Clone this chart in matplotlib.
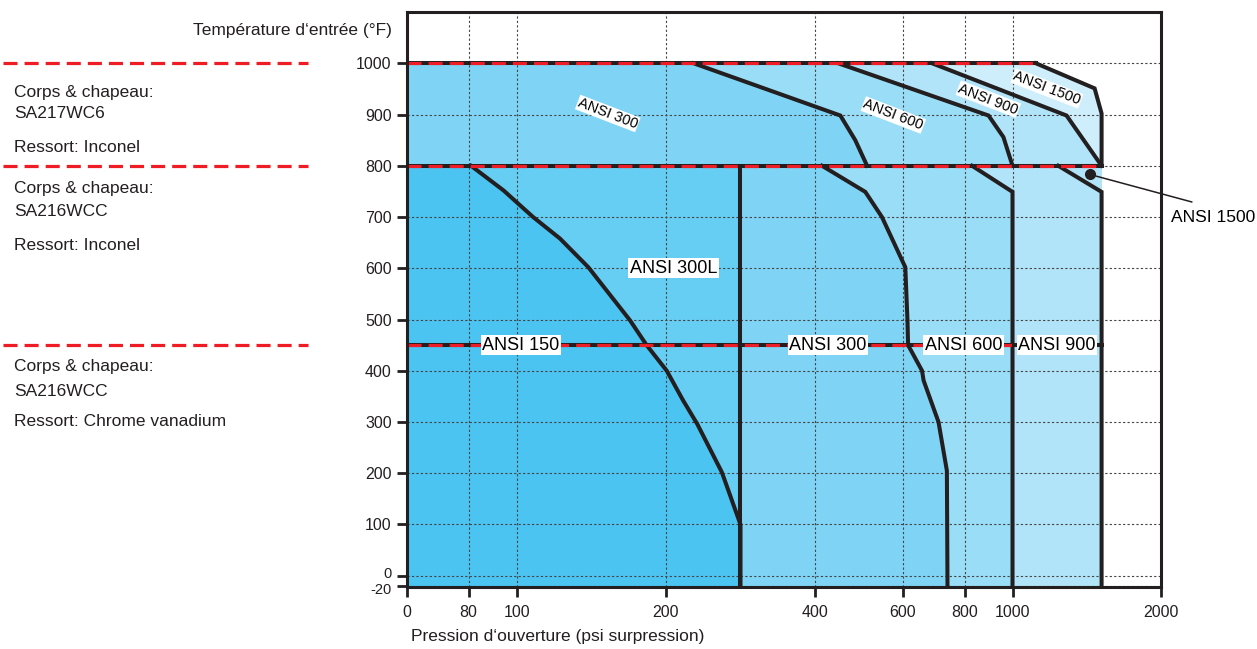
import numpy as np
import matplotlib
matplotlib.use("Agg")
import matplotlib.pyplot as plt
import matplotlib.transforms as mtransforms

plt.rcParams['font.family'] = ['Liberation Sans', 'DejaVu Sans']

# x axis is piecewise: tick values and where they sit along the axis (fraction of width)
x_ticks = [0, 80, 100, 200, 400, 600, 800, 1000, 2000]
x_frac = [0.0, 0.0817, 0.1454, 0.3435, 0.5411, 0.6572, 0.7395, 0.8031, 1.0]
y_ticks = [-20, 0, 100, 200, 300, 400, 500, 600, 700, 800, 900, 1000]

# boundaries, pressure (psi) vs temperature (F)
# upper band 800-1000 F
b300_up_x = [237, 458, 492, 519]
b300_up_y = [1000, 898, 850, 800]
b600_up_x = [453, 900, 962, 1000]
b600_up_y = [1000, 898, 856, 800]
b900_up_x = [695, 1364, 1600]
b900_up_y = [1000, 898, 800]
b1500_up_x = [1157, 1553, 1600, 1600]
b1500_up_y = [1000, 951, 902, 800]

# middle + lower bands (-20 to 800 F)
b150_x = [81, 94.5, 111, 129, 148, 176, 187, 201, 223, 242, 275, 300, 300]
b150_y = [800, 752, 700, 658, 602, 498, 450, 400, 342, 296, 202, 100, -20]
b300L_x = [300, 300]
b300L_y = [800, -20]
b300_x = [416, 515, 553, 609, 616, 618, 663, 668, 716, 743, 745]
b300_y = [800, 749, 700, 602, 498, 450, 400, 381, 300, 205, -20]
b600_x = [831, 1000, 1000]
b600_y = [800, 749, -20]
b900_x = [1308, 1600, 1600]
b900_y = [800, 749, -20]

# band separators (temperature limits) and their x extent
sep_y = [1000, 800, 450]
sep_xmax = [1157, 1600, 1600]

materials = ["Corps & chapeau:", "SA217WC6", "Corps & chapeau:", "SA216WCC",
             "Corps & chapeau:", "SA216WCC"]
springs = ["Ressort: Inconel", "Ressort: Inconel", "Ressort: Chrome vanadium"]

c150 = '#4BC4F1'
c300L = '#66CDF3'
c300 = '#7FD4F5'
c600 = '#99DDF6'
c900 = '#B1E4F8'
c1500 = '#CDEEFA'
black = '#231F20'
red = '#EE1C25'


def fwd(v):
    return np.interp(v, x_ticks, x_frac)


def inv(f):
    return np.interp(f, x_frac, x_ticks)


fig = plt.figure(figsize=(12.57, 6.49), dpi=100)
ax = fig.add_axes([0.3238, 0.0955, 0.5998, 0.886])
ax.set_xscale('function', functions=(fwd, inv))
ax.set_xlim(0, 2000)
ax.set_ylim(-22, 1100)


def region(lx, ly, rx, ry, color):
    xs = list(lx) + list(rx)[::-1]
    ys = list(ly) + list(ry)[::-1]
    ax.fill(xs, ys, color=color, lw=0, zorder=1)


# upper band
region([0, 0], [1000, 800], b300_up_x, b300_up_y, c300)
region(b300_up_x, b300_up_y, b600_up_x, b600_up_y, c600)
region(b600_up_x, b600_up_y, b900_up_x, b900_up_y, c900)
region(b900_up_x, b900_up_y, b1500_up_x, b1500_up_y, c1500)
# middle and lower bands
region([0, 0], [800, -20], b150_x, b150_y, c150)
region(b150_x, b150_y, [300, 300], [800, -20], c300L)
region(b300L_x, b300L_y, b300_x, b300_y, c300)
region(b300_x, b300_y, b600_x, b600_y, c600)
region(b600_x, b600_y, b900_x, b900_y, c900)
region([1308, 1600], [800, 800], [1600, 1600], [749, 749], c900)

ax.grid(True, color='#444444', lw=0.8, linestyle=(0, (2, 2)))
ax.set_axisbelow(False)
for gl in ax.get_xgridlines() + ax.get_ygridlines():
    gl.set_zorder(1.5)

lw_b = 2.9
for xs, ys in [(b300_up_x, b300_up_y), (b600_up_x, b600_up_y), (b900_up_x, b900_up_y),
               (b1500_up_x, b1500_up_y), (b150_x, b150_y), (b300L_x, b300L_y),
               (b300_x, b300_y), (b600_x, b600_y), (b900_x, b900_y)]:
    ax.plot(xs, ys, color=black, lw=lw_b, solid_joinstyle='miter', zorder=3)

for yv, xm in zip(sep_y, sep_xmax):
    ax.plot([0, xm], [yv, yv], color=black, lw=lw_b, zorder=3)
    ax.plot([0, xm], [yv, yv], color=red, lw=2.3, dashes=(4.4, 2.2), zorder=4)

# separators continued to the left of the axis
trans = mtransforms.blended_transform_factory(fig.transFigure, ax.transData)
for yv in sep_y:
    ax.plot([3 / 1257, 308 / 1257], [yv, yv], color=red, lw=2.3, dashes=(4.4, 2.2),
            transform=trans, clip_on=False)

mat_pos = [92, 114, 189, 212, 367, 391]
for m, yp in zip(materials, mat_pos):
    fig.text(14 / 1257, 1 - yp / 649, m, fontsize=12.5, color=black, va='center')
for s, yp in zip(springs, [148, 245, 421]):
    fig.text(14 / 1257, 1 - yp / 649, s, fontsize=12.5, color=black, va='center')

box = dict(facecolor='white', edgecolor='none', pad=1.0)
for txt, x, y in [("ANSI 150", 103, 450), ("ANSI 300L", 210, 600), ("ANSI 300", 430, 450),
                  ("ANSI 600", 796, 450), ("ANSI 900", 1299, 450)]:
    ax.text(x, y, txt, fontsize=13, ha='center', va='center', bbox=box, zorder=5)
for txt, x, y in [("ANSI 300", 161, 902), ("ANSI 600", 579, 899), ("ANSI 900", 899, 930),
                  ("ANSI 1500", 1232, 951)]:
    ax.text(x, y, txt, fontsize=10.5, ha='center', va='center', rotation=-21,
            rotation_mode='anchor', bbox=dict(facecolor='white', edgecolor='none', pad=0.5),
            zorder=5)

ax.plot([1522], [783], 'o', color=black, ms=7, zorder=6)
ax.annotate("ANSI 1500", xy=(1522, 783), xycoords='data',
            xytext=(1213 / 1257, 1 - 217 / 649), textcoords='figure fraction',
            fontsize=12.5, ha='center', va='center', color='black',
            arrowprops=dict(arrowstyle='-', color=black, lw=1.1,
                            shrinkA=0, shrinkB=0, relpos=(0.25, 1.5)))

ax.set_xticks(x_ticks)
ax.set_xticklabels([str(v) for v in x_ticks])
ax.set_yticks(y_ticks)
ax.set_yticklabels([str(v) for v in y_ticks])
ax.tick_params(length=7, width=2, color=black, labelsize=11.5, labelcolor=black, pad=4)
ax.tick_params(axis='x', pad=6)
for sp in ax.spines.values():
    sp.set_linewidth(2.2)
    sp.set_color(black)
    sp.set_zorder(7)

# squeeze the 0 and -20 labels apart a little, as in the original
ylabels = ax.get_yticklabels()
ylabels[0].set_fontsize(10.5)
ylabels[1].set_fontsize(10.5)
ylabels[0].set_transform(ylabels[0].get_transform() +
                         mtransforms.ScaledTranslation(0, -2 / 72, fig.dpi_scale_trans))
ylabels[1].set_transform(ylabels[1].get_transform() +
                         mtransforms.ScaledTranslation(0, 2.5 / 72, fig.dpi_scale_trans))

fig.text(392 / 1257, 1 - 30 / 649, "Température d‘entrée (°F)", fontsize=12.5,
         ha='right', va='center', color=black)
fig.text(411 / 1257, 1 - 637 / 649, "Pression d‘ouverture (psi surpression)", fontsize=12.5,
         ha='left', va='center', color=black)

fig.savefig("out.png", dpi=100)
